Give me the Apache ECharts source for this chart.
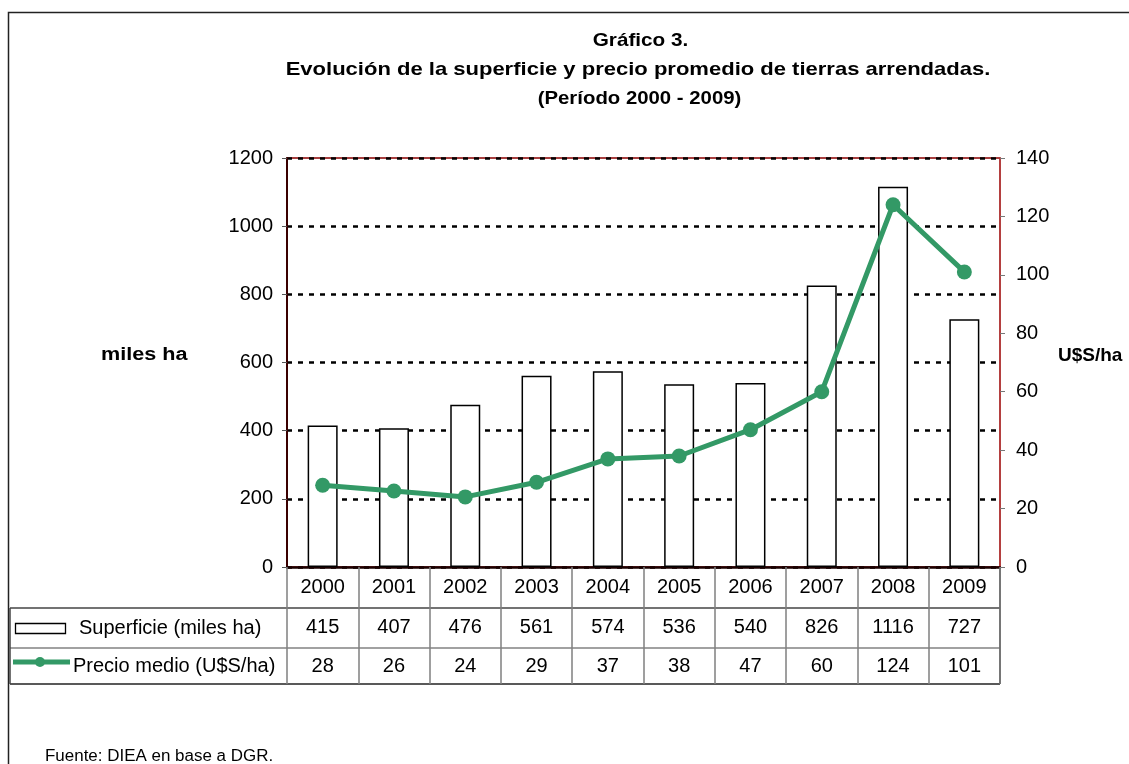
<!DOCTYPE html>
<html><head><meta charset="utf-8">
<script src="https://cdn.jsdelivr.net/npm/echarts@6/dist/echarts.min.js"></script>
<style>html,body{margin:0;padding:0;background:#fff}#c{width:1129px;height:764px}</style>
</head><body><div id="c"></div>
<script>
const years = ['2000','2001','2002','2003','2004','2005','2006','2007','2008','2009'];
const superficie = [415,407,476,561,574,536,540,826,1116,727];
const precio = [28,26,24,29,37,38,47,60,124,101];
const leftTicks = [0,200,400,600,800,1000,1200];
const rightTicks = [0,20,40,60,80,100,120,140];
const titleLines = ['Gráfico 3.', 'Evolución de la superficie y precio promedio de tierras arrendadas.', '(Período 2000 - 2009)'];

const F = "'Liberation Sans', Arial, sans-serif";
const chart = echarts.init(document.getElementById('c'));
const option = {
  backgroundColor: '#fff',
  animation: false,
  grid: {left: 287, right: 129, top: 158, bottom: 197, show: true, borderColor: '#8b0000', borderWidth: 1.5, backgroundColor: 'transparent'},
  xAxis: {
    type: 'category', data: years,
    axisLine: {lineStyle: {color: '#1a0000', width: 2.5}},
    axisTick: {show: true, length: 117, lineStyle: {color: '#808080', width: 1.5}},
    axisLabel: {
      margin: 1, fontFamily: F, fontSize: 20, color: '#000', lineHeight: 39.5, verticalAlign: 'top',
      formatter: (v, i) => v + '\n' + superficie[i] + '\n' + precio[i]
    }
  },
  yAxis: [{
    type: 'value', min: leftTicks[0], max: leftTicks[leftTicks.length-1], interval: 200,
    axisLine: {show: true, lineStyle: {color: '#3a0000', width: 2}},
    axisTick: {show: true, length: 5, lineStyle: {color: '#555'}},
    axisLabel: {margin: 14, fontFamily: F, fontSize: 20, color: '#000', formatter: v => String(v)},
    splitLine: {show: true, lineStyle: {color: '#000', type: [5,6], width: 2.5}}
  }, {
    type: 'value', min: rightTicks[0], max: rightTicks[rightTicks.length-1], interval: 20, position: 'right',
    axisLine: {show: true, lineStyle: {color: '#b84040', width: 1.5}},
    axisTick: {show: true, length: 5, lineStyle: {color: '#777'}},
    axisLabel: {margin: 16, fontFamily: F, fontSize: 20, color: '#000', formatter: v => String(v)},
    splitLine: {show: false}
  }],
  series: [{
    name: 'Superficie (miles ha)', type: 'bar', data: superficie, barWidth: 30, yAxisIndex: 0,
    itemStyle: {color: '#fff', borderColor: '#000', borderWidth: 1.5}
  }, {
    name: 'Precio medio (U$S/ha)', type: 'line', data: precio, yAxisIndex: 1,
    symbol: 'circle', symbolSize: 15,
    lineStyle: {color: '#339966', width: 5}, itemStyle: {color: '#339966'}
  }],
  graphic: [
    {type: 'rect', shape: {x: 8.5, y: 12.5, width: 1200, height: 900}, style: {fill: 'none', stroke: '#222', lineWidth: 1.5}, z: -10},
    {type: 'text', x: 640.5, y: 41, scaleX: 1.12, style: {text: titleLines[0], font: 'bold 18.5px ' + F, fill: '#000', textAlign: 'center', textVerticalAlign: 'middle'}},
    {type: 'text', x: 638, y: 70, scaleX: 1.19, style: {text: titleLines[1], font: 'bold 18.5px ' + F, fill: '#000', textAlign: 'center', textVerticalAlign: 'middle'}},
    {type: 'text', x: 639.5, y: 99, scaleX: 1.1, style: {text: titleLines[2], font: 'bold 18.5px ' + F, fill: '#000', textAlign: 'center', textVerticalAlign: 'middle'}},
    {type: 'text', x: 101, y: 355, scaleX: 1.2, style: {text: 'miles ha', font: 'bold 18px ' + F, fill: '#000', textVerticalAlign: 'middle'}},
    {type: 'text', x: 1058, y: 356, style: {text: 'U$S/ha', font: 'bold 19px ' + F, fill: '#000', textVerticalAlign: 'middle'}},
    {type: 'line', shape: {x1: 10, y1: 608, x2: 1000, y2: 608}, style: {stroke: '#444', lineWidth: 1.5}},
    {type: 'line', shape: {x1: 10, y1: 648, x2: 1000, y2: 648}, style: {stroke: '#444', lineWidth: 1.2}},
    {type: 'line', shape: {x1: 10, y1: 684, x2: 1000, y2: 684}, style: {stroke: '#222', lineWidth: 1.5}},
    {type: 'line', shape: {x1: 10, y1: 608, x2: 10, y2: 684}, style: {stroke: '#444', lineWidth: 1.5}},
    {type: 'line', shape: {x1: 1000, y1: 567, x2: 1000, y2: 684}, style: {stroke: '#222', lineWidth: 1.5}},
    {type: 'rect', shape: {x: 15.5, y: 623.5, width: 50, height: 10}, style: {fill: '#fff', stroke: '#000', lineWidth: 1.3}},
    {type: 'text', x: 79, y: 628, style: {text: 'Superficie (miles ha)', font: '20px ' + F, fill: '#000', textVerticalAlign: 'middle'}},
    {type: 'line', shape: {x1: 13, y1: 662, x2: 70, y2: 662}, style: {stroke: '#339966', lineWidth: 5}},
    {type: 'circle', shape: {cx: 40, cy: 662, r: 5}, style: {fill: '#339966'}},
    {type: 'text', x: 73, y: 666, style: {text: 'Precio medio (U$S/ha)', font: '20px ' + F, fill: '#000', textVerticalAlign: 'middle'}},
    {type: 'text', x: 45, y: 757, scaleX: 1.06, style: {text: 'Fuente: DIEA en base a DGR.', font: '16px ' + F, fill: '#000', textVerticalAlign: 'middle'}}
  ]
};
chart.setOption(option);
</script></body></html>
